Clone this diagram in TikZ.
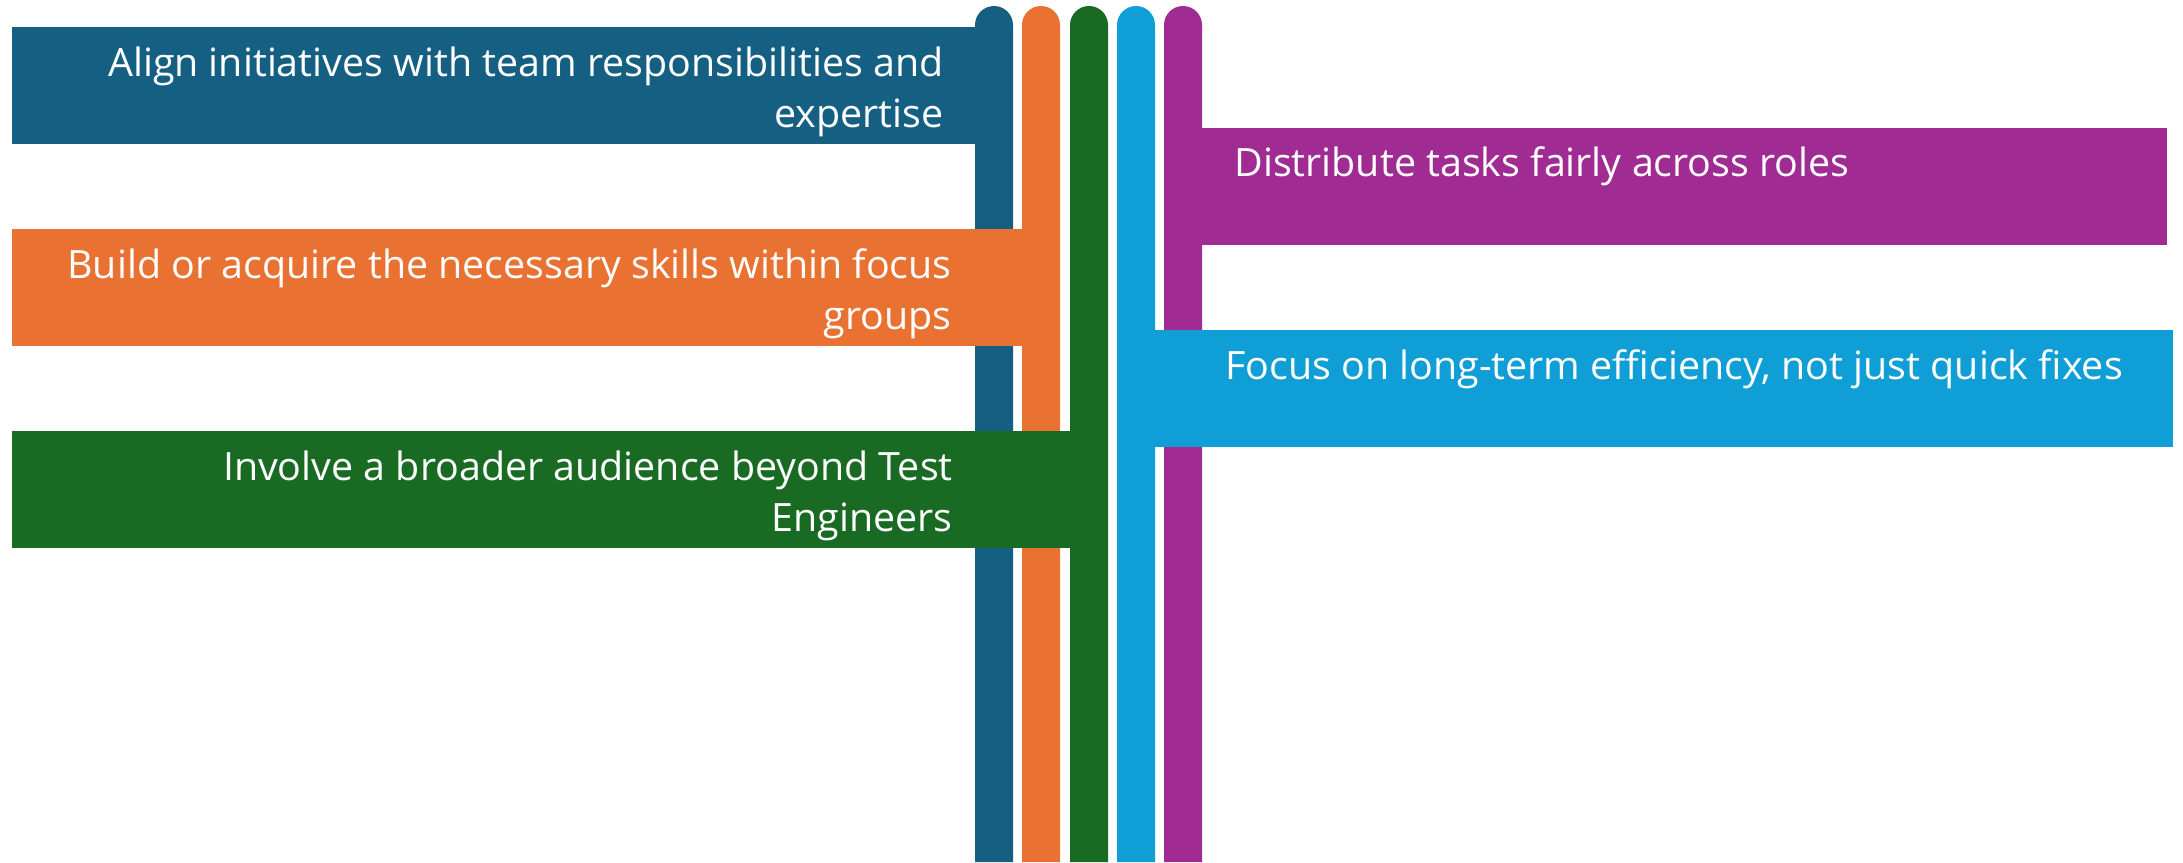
\documentclass[tikz,border=0pt]{standalone}
\usepackage{fontspec}
\setmainfont{Open Sans}[FakeStretch=1.01]
\usepackage{tikz}
\usetikzlibrary{positioning}
\definecolor{tealacc}{HTML}{156082}
\definecolor{orangeacc}{HTML}{E97132}
\definecolor{greenacc}{HTML}{196B24}
\definecolor{cyanacc}{HTML}{0F9ED5}
\definecolor{purpleacc}{HTML}{A02B93}

\begin{document}
\begin{tikzpicture}[x=0.02cm, y=-0.02cm,
    band/.style={rectangle, inner sep=0pt, anchor=north west, minimum height=2.34cm},
    lbl/.style={text=white, inner sep=0pt, font=\fontsize{22.2pt}{28.7pt}\selectfont}]
    \useasboundingbox[fill=white] (0,0) rectangle (2183,862);

    % vertical bars with round tops
    \foreach \x/\c in {975/tealacc, 1022/orangeacc, 1070/greenacc, 1117/cyanacc, 1164/purpleacc} {
      \fill[\c] (\x,862) [rounded corners=0.38cm] -- (\x,6) -- ({\x+38},6) [sharp corners] -- ({\x+38},862) -- cycle;
    }

    % bands on the left, joined to their bars
    \node[band, fill=tealacc, minimum width=20.02cm] (align) at (12,27) {};
    \node[band, fill=orangeacc, minimum width=20.96cm] (build) at (12,229) {};
    \node[band, fill=greenacc, minimum width=21.9cm] (involve) at (12,431) {};

    % bands on the right
    \node[band, fill=purpleacc, minimum width=20.06cm] (distribute) at (1164,128) {};
    \node[band, fill=cyanacc, minimum width=21.12cm] (focus) at (1117,330) {};

    % texts (base = last line)
    \node[lbl, align=right, anchor=base east] (aligntxt) at (944,127) {Align initiatives with team responsibilities and\\expertise};
    \node[lbl, align=right, anchor=base east] (buildtxt) at (952,329) {Build or acquire the necessary skills within focus\\groups};
    \node[lbl, align=right, anchor=base east] (involvetxt) at (953,531) {Involve a broader audience beyond Test\\Engineers};
    \node[lbl, anchor=base west] (distributetxt) at (1234,176) {Distribute tasks fairly across roles};
    \node[lbl, anchor=base west] (focustxt) at (1225,379) {Focus on long-term efficiency, not just quick fixes};
\end{tikzpicture}
\end{document}
